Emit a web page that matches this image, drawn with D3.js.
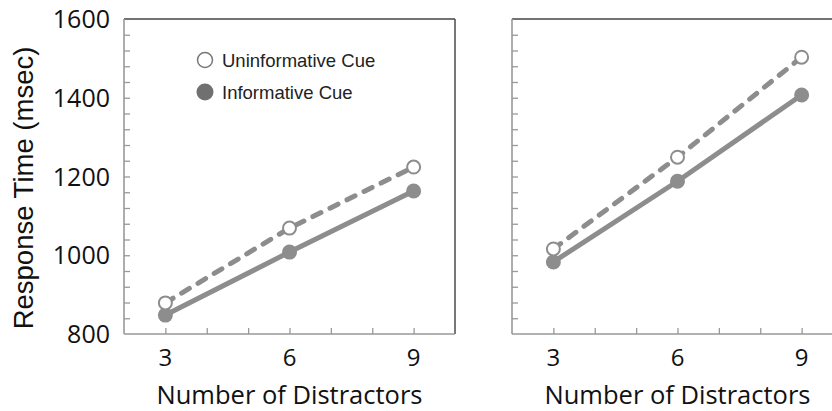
<!DOCTYPE html>
<html>
<head>
<meta charset="utf-8">
<script src="https://cdn.jsdelivr.net/npm/d3@7"></script>
<style>
  body { margin: 0; background: #fff; }
  svg { display: block; }
</style>
</head>
<body>
<script>
// data
var distractors = [3, 6, 9];
var leftUninformative = [879, 1069, 1224];
var leftInformative = [848, 1008, 1163];
var rightUninformative = [1016, 1249, 1503];
var rightInformative = [983, 1188, 1407];
var yTickLabels = [800, 1000, 1200, 1400, 1600];
var legendLabels = ["Uninformative Cue", "Informative Cue"];

var W = 832, H = 411;
var lineColor = "#8d8d8d";

var svg = d3.select("body").append("svg")
    .attr("width", W)
    .attr("height", H);

var y = d3.scaleLinear().domain([800, 1600]).range([334, 19]);

// one panel (box, axes, two series)
function drawPanel(left, right, uninf, inf, showYLabels) {
    var x = d3.scaleLinear().domain([2, 10]).range([left, right]);
    var g = svg.append("g");

    // top and right edges are darker
    g.append("line").attr("x1", x(2)).attr("x2", x(10)).attr("y1", y(1600)).attr("y2", y(1600))
        .attr("stroke", "#444").attr("stroke-width", 1.6);
    g.append("line").attr("x1", x(10)).attr("x2", x(10)).attr("y1", y(1600)).attr("y2", y(800))
        .attr("stroke", "#555").attr("stroke-width", 1.6);

    // y axis, minor ticks every 40 pointing inward
    var yAxis = d3.axisRight(y)
        .tickValues(d3.range(840, 1600, 40))
        .tickSize(6)
        .tickFormat("");
    var ya = g.append("g").attr("transform", "translate(" + x(2) + ",0)").call(yAxis);
    ya.select(".domain").remove();
    ya.selectAll("line").attr("stroke", "#999").attr("stroke-width", 1.3);
    g.append("line").attr("x1", x(2)).attr("x2", x(2)).attr("y1", y(1600)).attr("y2", y(800))
        .attr("stroke", "#999").attr("stroke-width", 1.6);

    if (showYLabels) {
        g.selectAll(".ylab").data(yTickLabels).enter().append("text")
            .attr("class", "ylab")
            .attr("x", x(2) - 14)
            .attr("y", function(d) { return y(d); })
            .attr("dy", "0.36em")
            .attr("text-anchor", "end")
            .style("font-family", "'Open Sans', sans-serif")
            .style("font-size", "25px")
            .style("fill", "#111")
            .text(function(d) { return d; });
    }

    // x axis, ticks every 1 pointing up
    var xAxis = d3.axisTop(x)
        .tickValues(d3.range(3, 10, 1))
        .tickSize(6)
        .tickFormat("");
    var xa = g.append("g").attr("transform", "translate(0," + y(800) + ")").call(xAxis);
    xa.select(".domain").remove();
    xa.selectAll("line").attr("stroke", "#999").attr("stroke-width", 1.3);
    g.append("line").attr("x1", x(2)).attr("x2", x(10)).attr("y1", y(800)).attr("y2", y(800))
        .attr("stroke", "#999").attr("stroke-width", 1.6);

    g.selectAll(".xlab").data(distractors).enter().append("text")
        .attr("class", "xlab")
        .attr("x", function(d) { return x(d); })
        .attr("y", 366)
        .attr("text-anchor", "middle")
        .style("font-family", "'Open Sans', sans-serif")
        .style("font-size", "24px")
        .style("fill", "#111")
        .text(function(d) { return d; });

    g.append("text")
        .attr("x", x(6))
        .attr("y", 404)
        .attr("text-anchor", "middle")
        .style("font-family", "'Open Sans', sans-serif")
        .style("font-size", "25.5px")
        .style("fill", "#111")
        .text("Number of Distractors");

    var line = d3.line()
        .x(function(d, i) { return x(distractors[i]); })
        .y(function(d) { return y(d); });

    g.append("path").datum(uninf)
        .attr("d", line)
        .attr("fill", "none")
        .attr("stroke", lineColor)
        .attr("stroke-width", 5)
        .attr("stroke-linecap", "round")
        .attr("stroke-dasharray", "9,10");
    g.append("path").datum(inf)
        .attr("d", line)
        .attr("fill", "none")
        .attr("stroke", lineColor)
        .attr("stroke-width", 5);

    g.selectAll(".inf").data(inf).enter().append("circle")
        .attr("cx", function(d, i) { return x(distractors[i]); })
        .attr("cy", function(d) { return y(d); })
        .attr("r", 7.5)
        .attr("fill", lineColor);
    g.selectAll(".uninf").data(uninf).enter().append("circle")
        .attr("cx", function(d, i) { return x(distractors[i]); })
        .attr("cy", function(d) { return y(d); })
        .attr("r", 6.5)
        .attr("fill", "#fff")
        .attr("stroke", lineColor)
        .attr("stroke-width", 2);
}

drawPanel(124, 455, leftUninformative, leftInformative, true);
drawPanel(512, 843, rightUninformative, rightInformative, false);

// y axis title
svg.append("text")
    .attr("transform", "translate(33,188) rotate(-90)")
    .attr("text-anchor", "middle")
    .style("font-family", "'Liberation Sans', Arial, sans-serif")
    .style("font-size", "27.5px")
    .style("fill", "#111")
    .text("Response Time (msec)");

// legend
var legend = svg.append("g");
legendLabels.forEach(function(label, i) {
    var cy = 60 + i * 32;
    legend.append("circle")
        .attr("cx", 205)
        .attr("cy", cy)
        .attr("r", i == 0 ? 7.5 : 8.5)
        .attr("fill", i == 0 ? "#fff" : "#707070")
        .attr("stroke", i == 0 ? "#777" : "none")
        .attr("stroke-width", 1.5);
    legend.append("text")
        .attr("x", 222)
        .attr("y", cy)
        .attr("dy", "0.36em")
        .style("font-family", "'Liberation Sans', Arial, sans-serif")
        .style("font-size", "18.5px")
        .style("fill", "#222")
        .text(label);
});
</script>
</body>
</html>
